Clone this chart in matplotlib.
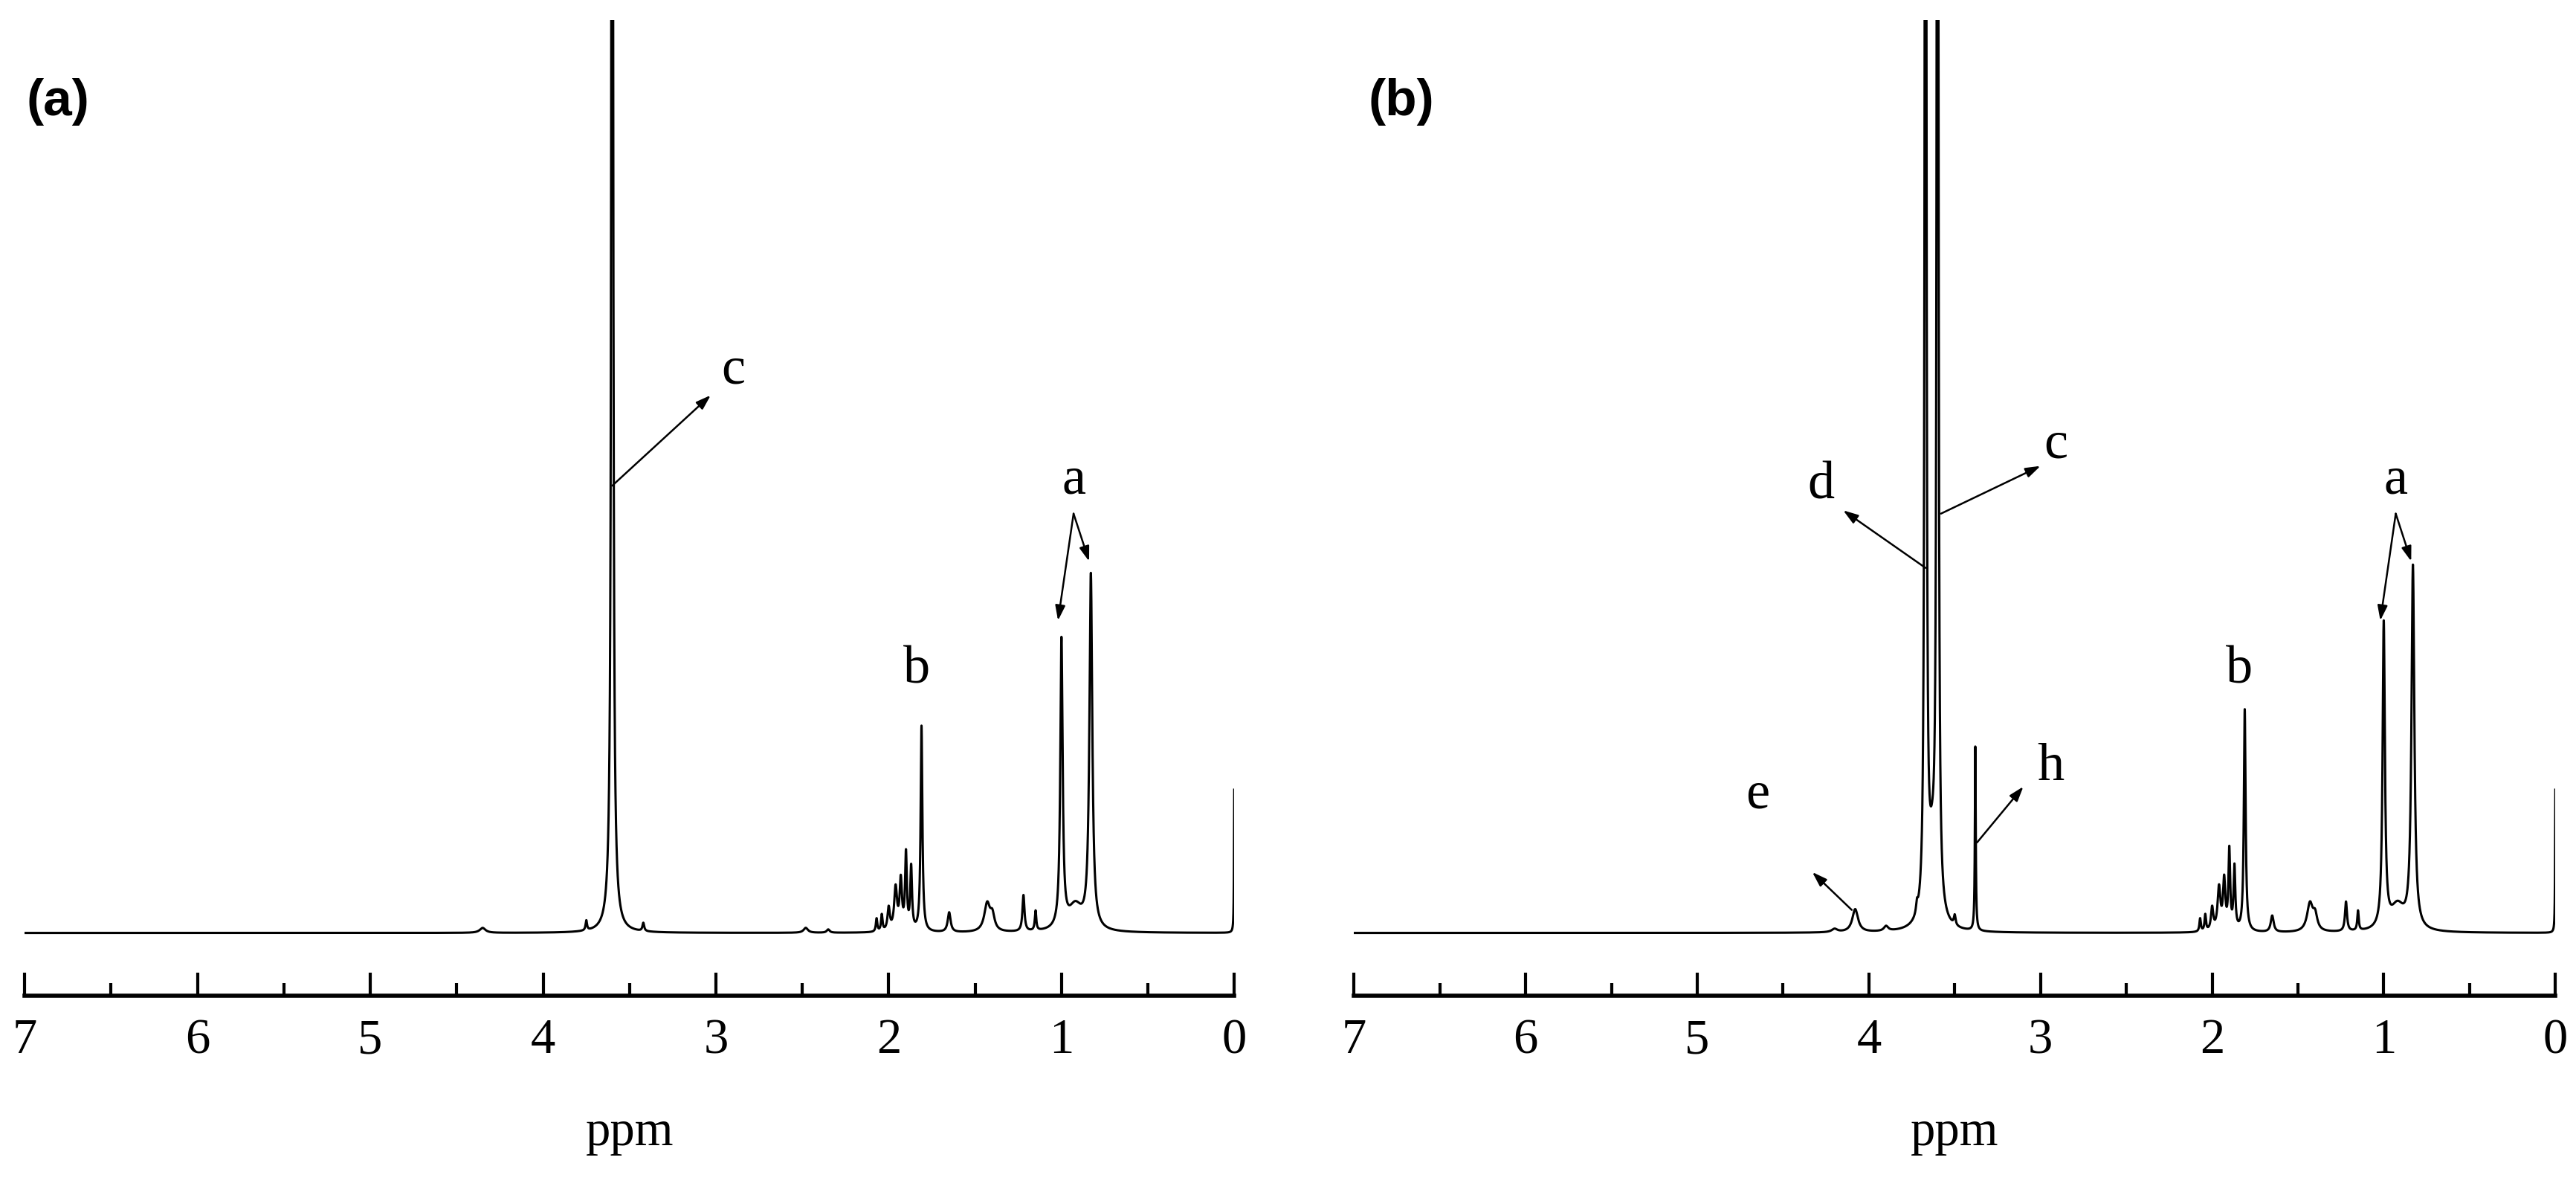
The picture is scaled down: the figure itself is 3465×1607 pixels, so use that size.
import numpy as np
import matplotlib
matplotlib.use("Agg")
import matplotlib.pyplot as plt
from matplotlib.ticker import MultipleLocator

# Peak tables (ppm position, peak height, half-width in ppm)
pos_a = [3.60, 3.60, 0.00, 1.00, 0.83, 0.92, 1.81, 1.87, 1.90, 1.93, 1.96, 2.00, 2.04, 2.07,
         1.65, 1.43, 1.40, 1.22, 1.15, 3.75, 3.42, 4.35, 2.48, 2.35]
hgt_a = [1500, 40, 87, 175, 215, 15, 125, 38, 46, 30, 26, 14, 10, 8,
         12, 17, 9, 22, 12, 6, 5, 3, 3, 2]
wid_a = [0.004, 0.02, 0.002, 0.008, 0.01, 0.05, 0.006, 0.006, 0.006, 0.008, 0.01, 0.008, 0.005, 0.005,
         0.01, 0.02, 0.015, 0.007, 0.005, 0.005, 0.006, 0.02, 0.015, 0.01]

pos_b = [3.60, 3.67, 3.63, 3.38, 4.08, 3.50, 3.72, 0.00, 1.00, 0.83, 0.92, 1.81, 1.87, 1.90, 1.93,
         1.96, 2.00, 2.04, 2.07, 1.65, 1.43, 1.40, 1.22, 1.15, 3.90, 4.20]
hgt_b = [1500, 1500, 40, 112, 14, 6, 6, 87, 185, 220, 15, 135, 38, 48, 30,
         26, 14, 10, 8, 10, 17, 9, 18, 12, 3, 2]
wid_b = [0.004, 0.004, 0.03, 0.003, 0.02, 0.006, 0.006, 0.002, 0.008, 0.01, 0.05, 0.006, 0.006, 0.006, 0.008,
         0.01, 0.008, 0.005, 0.005, 0.01, 0.02, 0.015, 0.007, 0.005, 0.015, 0.02]

ppm_ticks = [7, 6, 5, 4, 3, 2, 1, 0]
ppm_labels = ["7", "6", "5", "4", "3", "2", "1", "0"]

def spectrum(x, pos, hgt, wid):
    y = np.zeros_like(x)
    for p, h, w in zip(pos, hgt, wid):
        y += h / (1 + ((x - p) / w) ** 2)
    return y

x = np.linspace(7, 0, 40000)

fig = plt.figure(figsize=(34.66, 16.07), dpi=100)
serif = "Liberation Serif"
panels = [
    ([0.0096, 0.167, 0.4694, 0.816], pos_a, hgt_a, wid_a, "(a)"),
    ([0.5255, 0.167, 0.4662, 0.816], pos_b, hgt_b, wid_b, "(b)"),
]
axes = []
for rect, pos, hgt, wid, lab in panels:
    ax = fig.add_axes(rect)
    ax.plot(x, spectrum(x, pos, hgt, wid), color="black", lw=2.2)
    ax.set_xlim(7, 0)
    ax.set_ylim(-38, 555)
    for s in ["top", "left", "right"]:
        ax.spines[s].set_visible(False)
    ax.spines["bottom"].set_linewidth(4)
    ax.set_yticks([])
    ax.set_xticks(ppm_ticks)
    ax.set_xticklabels(ppm_labels, fontfamily=serif, fontsize=48)
    ax.xaxis.set_minor_locator(MultipleLocator(0.5))
    ax.tick_params(axis="x", which="major", length=22, width=3, direction="in", pad=22)
    ax.tick_params(axis="x", which="minor", length=12, width=3, direction="in")
    ax.set_xlabel("ppm", fontfamily=serif, fontsize=48, labelpad=45)
    fig.text(rect[0] + 0.0005 if lab == "(a)" else 0.531, 0.915, lab, fontsize=50,
             fontweight="bold", fontfamily="Liberation Sans", va="center")
    axes.append(ax)

ap = dict(arrowstyle="-|>,head_length=1.2,head_width=0.4", color="black", lw=1.8, shrinkA=0, shrinkB=0)
tk = dict(fontfamily=serif, fontsize=52, ha="center", va="center")

ax = axes[0]
ax.annotate("", xy=(3.03, 327), xytext=(3.60, 272), arrowprops=ap)
ax.text(2.90, 342, "c", **tk)
ax.annotate("", xy=(1.02, 190), xytext=(0.93, 255), arrowprops=ap)
ax.annotate("", xy=(0.84, 226), xytext=(0.93, 255), arrowprops=ap)
ax.text(0.93, 275, "a", **tk)
ax.text(1.84, 160, "b", **tk)

ax = axes[1]
ax.annotate("", xy=(4.15, 257), xytext=(3.67, 222), arrowprops=ap)
ax.text(4.28, 272, "d", **tk)
ax.annotate("", xy=(3.00, 284), xytext=(3.58, 255), arrowprops=ap)
ax.text(2.91, 297, "c", **tk)
ax.annotate("", xy=(3.10, 89), xytext=(3.37, 55), arrowprops=ap)
ax.text(2.94, 101, "h", **tk)
ax.annotate("", xy=(4.33, 37), xytext=(4.10, 14), arrowprops=ap)
ax.text(4.65, 84, "e", **tk)
ax.annotate("", xy=(1.02, 190), xytext=(0.93, 255), arrowprops=ap)
ax.annotate("", xy=(0.84, 226), xytext=(0.93, 255), arrowprops=ap)
ax.text(0.93, 275, "a", **tk)
ax.text(1.84, 160, "b", **tk)

fig.savefig("out.png", dpi=100)
